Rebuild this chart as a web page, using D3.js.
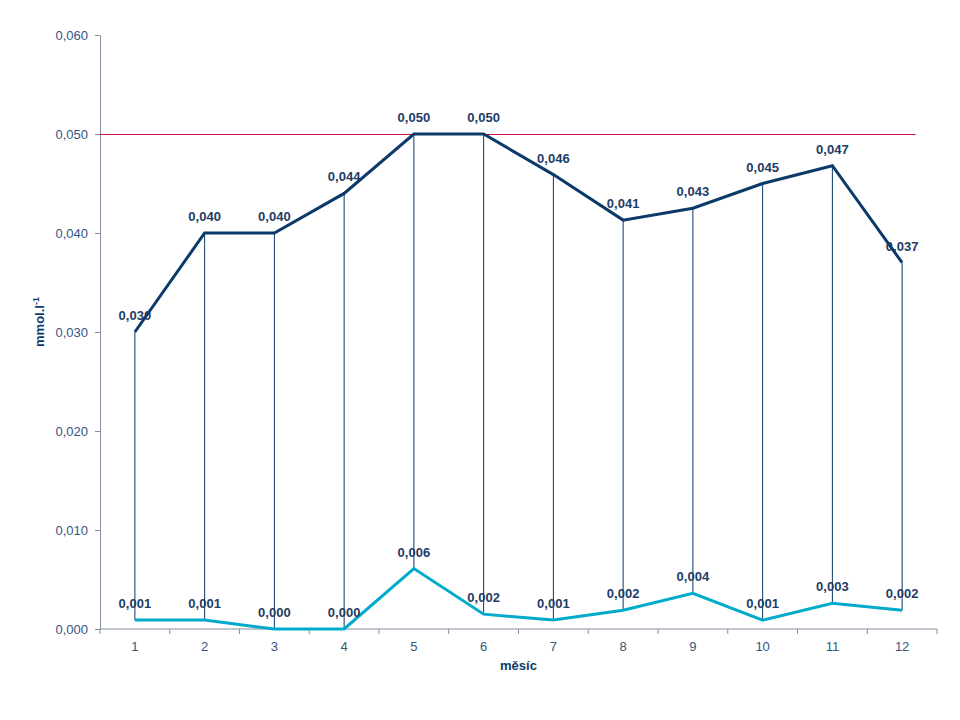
<!DOCTYPE html>
<html>
<head>
<meta charset="utf-8">
<script src="https://cdn.jsdelivr.net/npm/d3@7"></script>
<style>
  body { margin: 0; background: #fff; }
  svg { font-family: "Liberation Sans", Arial, sans-serif; }
</style>
</head>
<body>
<div id="chart"></div>
<script>
// months on the x axis
const months = ["1", "2", "3", "4", "5", "6", "7", "8", "9", "10", "11", "12"];
// upper series
const upperValues = [0.030, 0.040, 0.040, 0.044, 0.050, 0.050, 0.0459, 0.0413, 0.0425, 0.045, 0.0468, 0.037];
// lower series
const lowerValues = [0.0009, 0.0009, 0.0, 0.0, 0.0061, 0.0015, 0.0009, 0.0019, 0.0036, 0.0009, 0.0026, 0.0019];
// limit line
const limitValue = 0.050;
const yTicks = [0, 0.01, 0.02, 0.03, 0.04, 0.05, 0.06];

const width = 960, height = 720;
const margin = { top: 35, right: 23, bottom: 91, left: 100 };

const fmt = v => d3.format(".3f")(v).replace(".", ",");

const svg = d3.select("#chart").append("svg")
  .attr("width", width)
  .attr("height", height);

// scales
const x = d3.scaleBand()
  .domain(months)
  .range([margin.left, width - margin.right]);

const y = d3.scaleLinear()
  .domain([0, 0.06])
  .range([height - margin.bottom, margin.top]);

const xc = d => x(d) + x.bandwidth() / 2;

const axisColor = "#8590a3";
const textColor = "#34557f";
const navy = "#0b3a68";
const cyan = "#00aacb";

// y axis
const yAxis = svg.append("g")
  .attr("transform", `translate(${margin.left},0)`)
  .call(d3.axisLeft(y).tickValues(yTicks).tickFormat(fmt).tickSize(5).tickPadding(7));
yAxis.select(".domain").attr("stroke", axisColor);
yAxis.selectAll(".tick line").attr("stroke", axisColor);
yAxis.selectAll(".tick text").attr("fill", textColor).style("font-size", "13px");

// x axis, ticks between categories
const xAxisG = svg.append("g")
  .attr("transform", `translate(0,${y(0)})`);
xAxisG.append("line")
  .attr("x1", x.range()[0]).attr("x2", x.range()[1])
  .attr("stroke", axisColor);
const tickPos = months.map(m => x(m)).concat([x.range()[1]]);
xAxisG.selectAll(".xt").data(tickPos).join("line")
  .attr("x1", d => d).attr("x2", d => d)
  .attr("y1", 0).attr("y2", 5)
  .attr("stroke", axisColor);
xAxisG.selectAll(".xl").data(months).join("text")
  .attr("x", d => xc(d))
  .attr("y", 22)
  .attr("text-anchor", "middle")
  .attr("fill", textColor)
  .style("font-size", "13px")
  .text(d => d);

// limit line at 0,050
svg.append("line")
  .attr("x1", x.range()[0])
  .attr("x2", x.range()[1] - 0.31 * x.bandwidth())
  .attr("y1", Math.round(y(limitValue)) + 0.5).attr("y2", Math.round(y(limitValue)) + 0.5)
  .attr("stroke", "#cf0f45")
  .attr("stroke-width", 1.2);

// high-low lines
svg.selectAll(".hilo").data(months).join("line")
  .attr("x1", d => xc(d)).attr("x2", d => xc(d))
  .attr("y1", (d, i) => y(upperValues[i]))
  .attr("y2", (d, i) => y(lowerValues[i]))
  .attr("stroke", navy)
  .attr("stroke-width", 1);

const line = d3.line()
  .x((d, i) => xc(months[i]))
  .y(d => y(d));

svg.append("path")
  .datum(lowerValues)
  .attr("d", line)
  .attr("fill", "none")
  .attr("stroke", cyan)
  .attr("stroke-width", 3);

svg.append("path")
  .datum(upperValues)
  .attr("d", line)
  .attr("fill", "none")
  .attr("stroke", navy)
  .attr("stroke-width", 3);

// data labels
function labels(values, cls) {
  svg.selectAll("." + cls).data(values).join("text")
    .attr("class", cls)
    .attr("x", (d, i) => xc(months[i]))
    .attr("y", (d, i) => y(d) - 12)
    .attr("text-anchor", "middle")
    .attr("fill", "#1d3c66")
    .style("font-size", "13px")
    .style("font-weight", "bold")
    .text(d => fmt(d));
}
labels(upperValues, "lu");
labels(lowerValues, "ll");

// axis titles
svg.append("text")
  .attr("x", xc("6") + x.bandwidth() / 2)
  .attr("y", 670)
  .attr("text-anchor", "middle")
  .attr("fill", navy)
  .style("font-size", "13px")
  .style("font-weight", "bold")
  .text("měsíc");

const yt = svg.append("text")
  .attr("transform", `translate(44,${y(0.03) - 10}) rotate(-90)`)
  .attr("text-anchor", "middle")
  .attr("fill", navy)
  .style("font-size", "13px")
  .style("font-weight", "bold");
yt.append("tspan").text("mmol.l");
yt.append("tspan").attr("dy", -5).style("font-size", "9px").text("-1");
</script>
</body>
</html>
